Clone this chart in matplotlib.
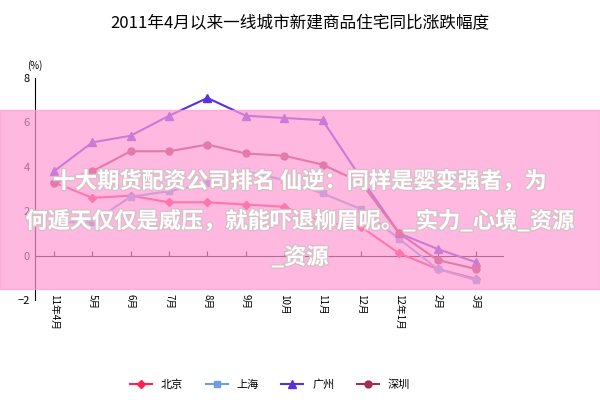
import matplotlib
matplotlib.use("Agg")
import matplotlib.pyplot as plt
from matplotlib.patches import Rectangle
import matplotlib.patheffects as pe

plt.rcParams['font.family'] = ['Noto Sans CJK SC', 'DejaVu Sans']

months = ["11年4月", "5月", "6月", "7月", "8月", "9月", "10月", "11月", "12月", "12年1月", "2月", "3月"]
beijing = [3.3, 2.6, 2.7, 2.4, 2.4, 2.3, 2.2, 1.5, 1.3, 0.1, -0.6, -1.05]
shanghai = [1.5, 1.5, 2.65, 2.9, 3.25, 3.8, 3.4, 2.8, 2.1, 0.75, -0.6, -1.1]
guangzhou = [3.8, 5.1, 5.4, 6.3, 7.1, 6.3, 6.2, 6.1, 3.5, 1.0, 0.3, -0.3]
shenzhen = [3.25, 3.8, 4.7, 4.7, 5.0, 4.6, 4.5, 4.1, 3.3, 1.0, -0.2, -0.6]

fig = plt.figure(figsize=(6, 4), dpi=100)
ax = fig.add_axes([0.058, 0.25, 0.78, 0.555])
x = list(range(len(months)))
ax.plot(x, beijing, color='#ff2255', marker='D', ms=4, lw=1.5, label='北京', zorder=7)
ax.plot(x, shanghai, color='#6f9ee0', marker='s', ms=5, lw=1.5, label='上海', zorder=7)
ax.plot(x, guangzhou, color='#5a2fe0', marker='^', ms=6, lw=1.5, label='广州', zorder=7)
ax.plot(x, shenzhen, color='#a0304f', marker='o', ms=5, lw=1.5, label='深圳', zorder=7)
ax.set_xlim(-0.5, len(months) - 0.3)
ax.set_ylim(-2, 8)
ax.set_yticks([-2, 0, 2, 4, 6, 8])
ax.tick_params(axis='y', labelsize=8, length=0)
for s in ['top', 'right']:
    ax.spines[s].set_visible(False)
ax.spines['bottom'].set_position(('data', 0))
ax.set_xticks(x)
ax.set_xticklabels(months, fontsize=7)
ax.tick_params(axis='x', direction='in', pad=28)
for lab in ax.get_xticklabels():
    lab.set_rotation(-90)
    lab.set_va('top')
    lab.set_ha('center')
ax.text(0.0, 1.04, '(%)', transform=ax.transAxes, fontsize=7, ha='center')
fig.text(0.5, 0.93, '2011年4月以来一线城市新建商品住宅同比涨跌幅度', ha='center', fontsize=12)
fig.legend(loc='lower center', ncol=4, frameon=False, fontsize=8, bbox_to_anchor=(0.45, 0.0))

fig.patches.append(Rectangle((0, 0.278), 1, 0.447, transform=fig.transFigure,
                             color='#ff9ad2', alpha=0.7, zorder=5))
eff = [pe.withStroke(linewidth=2, foreground='#d9c0c8')]
fig.text(0.5, 0.53, '十大期货配资公司排名 仙逆：同样是婴变强者，为', ha='center', fontsize=16,
         color='white', weight='bold', zorder=8, path_effects=eff)
fig.text(0.5, 0.43, '何遁天仅仅是威压，就能吓退柳眉呢。_实力_心境_资源', ha='center', fontsize=16,
         color='white', weight='bold', zorder=8, path_effects=eff)
fig.text(0.5, 0.34, '_资源', ha='center', fontsize=16, color='white', weight='bold', zorder=8,
         path_effects=eff)
fig.savefig('out.png', dpi=100)
